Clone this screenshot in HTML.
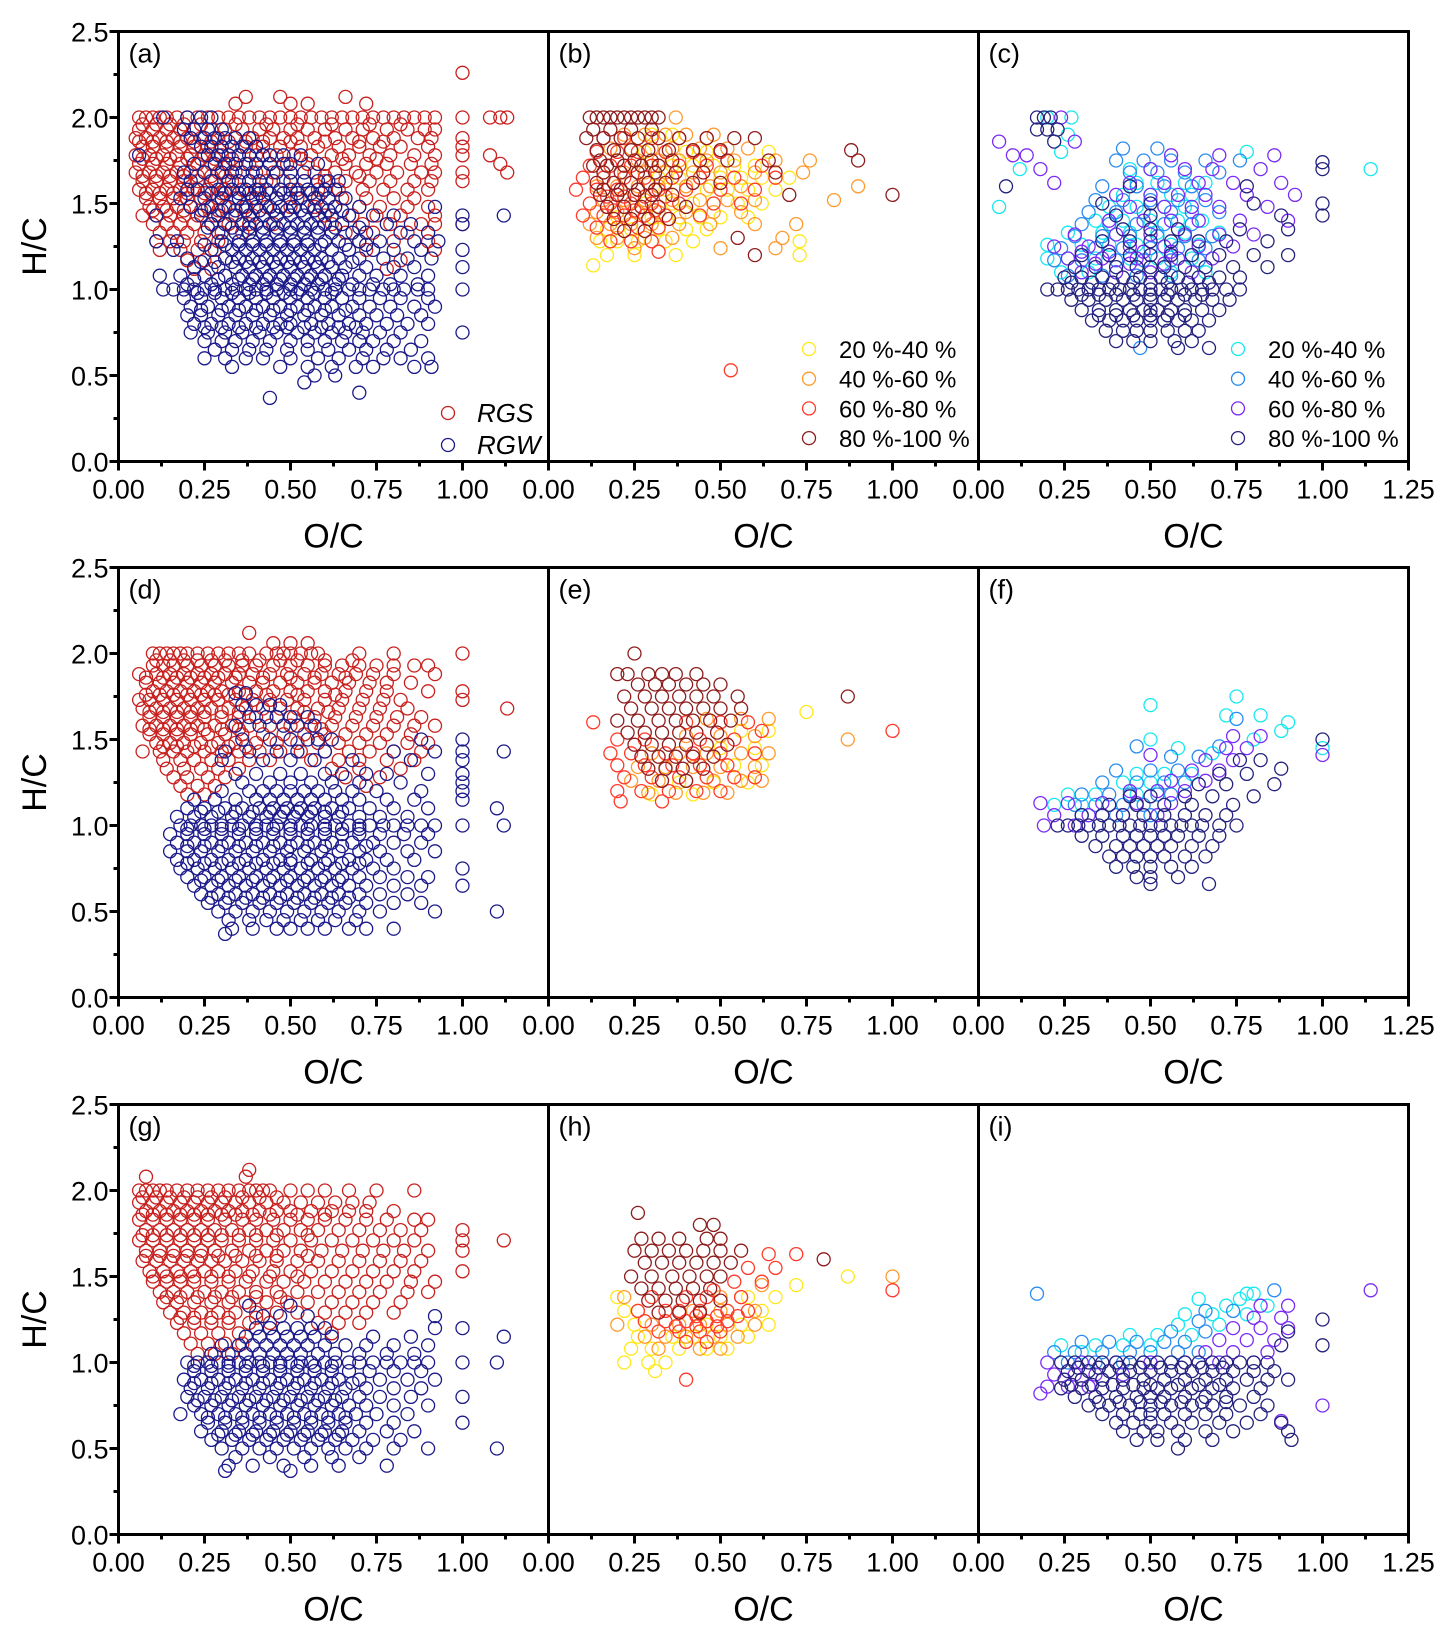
<!DOCTYPE html>
<html><head><meta charset="utf-8"><style>
body{margin:0;background:#fff}
svg{display:block;font-family:"Liberation Sans",Arial,sans-serif}
</style></head><body>
<svg id="fig" width="1453" height="1642" viewBox="0 0 1453 1642"></svg>
<script>
// Data rows: each row = [H/C, O/C values...]
const aRGS=[[2.0,0.06,0.08,0.1,0.12,0.14,0.17,0.2,0.23,0.26,0.29,0.32,0.35,0.38,0.41,0.44,0.47,0.5,0.53,0.56,0.59,0.62,0.65,0.68,0.71,0.74,0.77,0.8,0.83,0.86,0.89,0.92,1.0,1.08,1.11,1.13],[2.08,0.34,0.5,0.55,0.72],[2.12,0.37,0.47,0.66],[2.26,1.0],
[1.93,0.06,0.1,0.14,0.18,0.22,0.27,0.31,0.36,0.41,0.45,0.5,0.55,0.6,0.66,0.71,0.78,0.84,0.89,0.92],[1.88,0.05,0.08,0.12,0.16,0.2,0.24,0.29,0.34,0.39,0.44,0.48,0.52,0.57,0.63,0.68,0.74,0.8,0.87,0.91,1.0],[1.83,0.07,0.1,0.14,0.18,0.22,0.26,0.3,0.37,0.42,0.47,0.53,0.58,0.64,0.7,0.76,0.82,0.9,1.0],[1.78,0.05,0.09,0.13,0.17,0.21,0.25,0.3,0.35,0.4,0.46,0.51,0.56,0.62,0.67,0.73,0.79,0.86,0.92,1.0,1.08],[1.73,0.06,0.1,0.14,0.18,0.23,0.27,0.32,0.38,0.44,0.49,0.55,0.6,0.66,0.72,0.78,0.85,0.91,1.11],[1.68,0.05,0.09,0.13,0.17,0.21,0.25,0.29,0.34,0.4,0.45,0.5,0.57,0.63,0.69,0.75,0.81,0.88,0.92,1.0,1.13],[1.63,0.07,0.11,0.15,0.19,0.23,0.28,0.33,0.38,0.43,0.48,0.54,0.6,0.66,0.73,0.79,0.86,0.91,1.0],[1.58,0.06,0.1,0.14,0.18,0.22,0.26,0.31,0.36,0.41,0.47,0.52,0.58,0.64,0.71,0.77,0.84,0.9],[1.53,0.08,0.12,0.16,0.2,0.24,0.29,0.34,0.4,0.46,0.52,0.58,0.65,0.72,0.8,0.86],[1.48,0.09,0.13,0.17,0.21,0.26,0.31,0.37,0.43,0.5,0.57,0.63,0.7,0.76,0.84,0.9],[1.43,0.07,0.11,0.15,0.19,0.23,0.28,0.33,0.39,0.46,0.6,0.68,0.75,0.82,0.92],[1.38,0.1,0.14,0.18,0.22,0.27,0.32,0.38,0.45,0.62,0.71,0.79,0.88,0.92,1.0],[1.33,0.12,0.16,0.2,0.25,0.3,0.36,0.66,0.74,0.84],[1.28,0.11,0.15,0.19,0.24,0.29,0.7,0.8,0.9],[1.23,0.12,0.18,0.23,0.28,0.72,0.92],[1.17,0.2,0.25,0.82],[1.12,0.22,0.27,0.78],
[1.96,0.07,0.11,0.15,0.19,0.24,0.34,0.43,0.52,0.62,0.73,0.82],[1.86,0.06,0.1,0.14,0.18,0.22,0.27,0.32,0.37,0.42,0.5,0.6,0.7,0.77],[1.76,0.07,0.11,0.15,0.2,0.24,0.28,0.33,0.53,0.65,0.75],[1.66,0.07,0.11,0.15,0.19,0.23,0.27,0.31,0.6,0.7],[1.56,0.08,0.12,0.16,0.2,0.25,0.3],[1.46,0.1,0.14,0.19,0.24,0.29]];
const aRGW=[[2.0,0.13,0.2,0.24,0.27],[1.93,0.19,0.22,0.26,0.3],[1.88,0.21,0.25,0.28,0.31,0.34,0.38],[1.83,0.24,0.27,0.3,0.33,0.36,0.4],[1.78,0.06,0.26,0.29,0.32,0.35,0.38,0.42,0.44,0.48,0.53],[1.73,0.22,0.28,0.31,0.34,0.37,0.4,0.44,0.48,0.5,0.58],[1.68,0.19,0.25,0.3,0.33,0.36,0.39,0.42,0.46,0.5,0.54],[1.63,0.21,0.27,0.32,0.35,0.38,0.41,0.45,0.5,0.54,0.58,0.61,0.64],[1.58,0.2,0.23,0.29,0.33,0.37,0.4,0.43,0.47,0.5,0.55,0.6,0.63],[1.53,0.18,0.25,0.3,0.35,0.39,0.42,0.46,0.5,0.53,0.57,0.61,0.66],[1.48,0.21,0.27,0.32,0.36,0.4,0.44,0.47,0.51,0.55,0.59,0.63,0.7,0.92],[1.43,0.11,0.24,0.29,0.34,0.38,0.42,0.46,0.5,0.54,0.58,0.62,0.67,0.74,0.8,1.0,1.12],[1.38,0.27,0.31,0.36,0.4,0.44,0.48,0.52,0.56,0.6,0.65,0.78,0.85,1.0],[1.33,0.29,0.34,0.38,0.42,0.46,0.5,0.54,0.58,0.62,0.68,0.72,0.82,0.9],[1.28,0.11,0.17,0.3,0.35,0.39,0.43,0.47,0.51,0.55,0.6,0.64,0.7,0.76,0.86,0.93],[1.23,0.16,0.27,0.33,0.37,0.41,0.45,0.49,0.53,0.57,0.62,0.67,0.74,0.8,0.88,1.0],[1.18,0.2,0.31,0.35,0.39,0.43,0.47,0.51,0.55,0.59,0.64,0.7,0.77,0.84,0.91],[1.13,0.22,0.29,0.34,0.38,0.42,0.46,0.5,0.54,0.58,0.62,0.66,0.72,0.8,0.86,1.0],[1.08,0.12,0.18,0.25,0.31,0.36,0.4,0.44,0.48,0.52,0.56,0.6,0.65,0.7,0.75,0.82,0.9],[1.03,0.2,0.27,0.33,0.38,0.42,0.46,0.5,0.54,0.58,0.63,0.68,0.74,0.79,0.87],[1.0,0.13,0.16,0.19,0.22,0.25,0.28,0.31,0.34,0.37,0.4,0.43,0.46,0.5,0.53,0.56,0.6,0.63,0.67,0.7,0.73,0.77,0.8,0.83,0.87,0.9,1.0],[0.95,0.19,0.24,0.3,0.35,0.4,0.45,0.5,0.55,0.6,0.65,0.7,0.76,0.82,0.9],[0.9,0.21,0.26,0.32,0.37,0.42,0.47,0.52,0.57,0.62,0.68,0.73,0.79,0.86,0.92],[0.85,0.2,0.24,0.29,0.34,0.39,0.44,0.49,0.54,0.59,0.64,0.7,0.75,0.81,0.88],[0.8,0.22,0.27,0.32,0.37,0.42,0.47,0.5,0.56,0.61,0.67,0.72,0.78,0.84,0.9],[0.75,0.21,0.26,0.31,0.36,0.41,0.46,0.52,0.57,0.62,0.66,0.71,0.76,0.82,1.0],[0.7,0.25,0.3,0.34,0.39,0.44,0.5,0.55,0.6,0.65,0.7,0.74,0.8,0.88],[0.65,0.28,0.33,0.38,0.43,0.49,0.55,0.61,0.67,0.72,0.78,0.85],[0.6,0.25,0.31,0.37,0.42,0.5,0.58,0.64,0.71,0.77,0.82,0.9],[0.55,0.33,0.47,0.55,0.62,0.69,0.74,0.86,0.91],[0.5,0.57,0.63],[0.46,0.54],[0.4,0.7],[0.37,0.44],
[1.56,0.27,0.31,0.35,0.38,0.41,0.44,0.48,0.52,0.56,0.59],[1.46,0.25,0.3,0.34,0.37,0.41,0.45,0.49,0.53,0.57,0.61,0.65],[1.36,0.26,0.33,0.38,0.42,0.46,0.5,0.54,0.58,0.63,0.7],[1.26,0.25,0.31,0.35,0.39,0.43,0.47,0.51,0.55,0.59,0.66,0.72],[1.16,0.24,0.28,0.33,0.37,0.41,0.45,0.49,0.53,0.57,0.61,0.68],[1.06,0.22,0.29,0.35,0.39,0.43,0.47,0.51,0.55,0.59,0.64],[0.98,0.23,0.28,0.33,0.38,0.43,0.48,0.52,0.57,0.62],[0.88,0.24,0.3,0.35,0.4,0.45,0.5,0.55,0.6,0.66],[0.78,0.25,0.3,0.35,0.4,0.45,0.49,0.54,0.59,0.64,0.69]];
const dRGS=[[2.0,0.1,0.12,0.14,0.16,0.18,0.2,0.23,0.26,0.29,0.32,0.35,0.38,0.43,0.46,0.48,0.5,0.53,0.56,0.58,0.7,0.8,1.0],[2.06,0.45,0.5,0.55],[2.12,0.38],[1.93,0.1,0.13,0.16,0.2,0.24,0.28,0.32,0.36,0.4,0.45,0.5,0.55,0.6,0.65,0.7,0.75,0.8,0.86,0.9],[1.88,0.06,0.11,0.15,0.19,0.23,0.27,0.31,0.35,0.39,0.44,0.49,0.54,0.59,0.64,0.69,0.74,0.8,0.92],[1.83,0.08,0.12,0.16,0.2,0.24,0.28,0.33,0.38,0.42,0.47,0.52,0.57,0.62,0.67,0.73,0.78,0.85],[1.78,0.1,0.14,0.18,0.22,0.26,0.3,0.35,0.4,0.45,0.5,0.55,0.6,0.66,0.72,0.78,0.9,1.0],[1.73,0.06,0.09,0.13,0.17,0.21,0.25,0.29,0.34,0.39,0.44,0.49,0.54,0.6,0.65,0.71,0.77,0.82,1.0],[1.68,0.07,0.11,0.15,0.19,0.23,0.27,0.32,0.37,0.42,0.47,0.52,0.58,0.64,0.7,0.76,0.84,1.13],[1.63,0.09,0.13,0.17,0.21,0.25,0.3,0.35,0.4,0.46,0.51,0.57,0.63,0.69,0.75,0.81,0.88],[1.58,0.07,0.11,0.15,0.19,0.23,0.28,0.33,0.38,0.44,0.5,0.56,0.62,0.68,0.74,0.8,0.86,0.92],[1.53,0.09,0.13,0.17,0.21,0.26,0.31,0.36,0.42,0.48,0.54,0.6,0.66,0.72,0.78,0.85],[1.48,0.11,0.15,0.19,0.24,0.29,0.34,0.4,0.46,0.52,0.58,0.64,0.7,0.76,0.84,0.9],[1.43,0.07,0.12,0.16,0.2,0.25,0.3,0.35,0.41,0.47,0.53,0.6,0.67,0.73,0.8,0.88],[1.38,0.13,0.18,0.22,0.27,0.32,0.38,0.44,0.56,0.64,0.7,0.78,0.86],[1.33,0.14,0.19,0.24,0.29,0.35,0.62,0.7,0.82],[1.28,0.16,0.2,0.26,0.31,0.66,0.76],[1.23,0.18,0.23,0.28,0.72],[1.18,0.2,0.25],
[1.96,0.11,0.15,0.19,0.23,0.27,0.31,0.36,0.41,0.47,0.52,0.6,0.68],[1.86,0.08,0.13,0.17,0.21,0.25,0.29,0.34,0.42,0.5,0.57,0.66],[1.76,0.08,0.12,0.16,0.2,0.24,0.28,0.32,0.37,0.43,0.52,0.63],[1.66,0.09,0.13,0.17,0.21,0.25,0.3,0.35,0.54,0.61],[1.56,0.09,0.13,0.17,0.21,0.25,0.3,0.35,0.59],[1.46,0.13,0.17,0.22,0.27,0.32,0.37]];
const dRGW=[[1.77,0.34,0.37],[1.7,0.36,0.4,0.44,0.47],[1.63,0.38,0.43,0.46,0.5,0.55],[1.58,0.34,0.41,0.48,0.52,0.57],[1.5,0.36,0.44,0.5,0.55,0.58,0.62,0.88,1.0],[1.43,0.31,0.38,0.46,0.52,0.6,0.8,0.92,1.0,1.12],[1.38,0.3,0.42,0.5,0.57,0.68,0.85,1.0],[1.3,0.34,0.4,0.47,0.53,0.6,0.65,0.72,0.78,0.9,1.0],[1.25,0.36,0.44,0.5,0.56,0.62,0.7,0.82,1.0],[1.2,0.3,0.38,0.42,0.46,0.5,0.54,0.58,0.63,0.68,0.75,0.88,1.0],[1.15,0.22,0.28,0.34,0.4,0.44,0.48,0.52,0.56,0.6,0.65,0.7,0.78,0.86,1.0],[1.1,0.2,0.25,0.31,0.36,0.41,0.45,0.49,0.53,0.57,0.62,0.67,0.73,0.8,0.9,1.1],[1.05,0.17,0.22,0.27,0.33,0.38,0.43,0.47,0.51,0.55,0.6,0.64,0.7,0.76,0.84],[1.0,0.18,0.21,0.24,0.27,0.3,0.33,0.36,0.4,0.43,0.46,0.5,0.53,0.56,0.6,0.63,0.67,0.7,0.73,0.77,0.8,0.84,0.88,0.92,1.0,1.12],[0.95,0.15,0.2,0.25,0.3,0.35,0.4,0.45,0.5,0.55,0.6,0.65,0.7,0.76,0.83,0.9],[0.9,0.17,0.22,0.27,0.32,0.37,0.42,0.47,0.52,0.57,0.62,0.68,0.74,0.8,0.88],[0.85,0.15,0.2,0.24,0.29,0.34,0.39,0.44,0.49,0.54,0.59,0.64,0.7,0.76,0.84,0.92],[0.8,0.17,0.22,0.27,0.32,0.37,0.42,0.47,0.5,0.56,0.61,0.67,0.72,0.78,0.86],[0.75,0.18,0.23,0.28,0.33,0.38,0.43,0.48,0.53,0.58,0.63,0.68,0.74,0.8,1.0],[0.7,0.2,0.25,0.3,0.35,0.4,0.45,0.5,0.55,0.6,0.65,0.7,0.76,0.84,0.9],[0.65,0.22,0.27,0.32,0.37,0.42,0.47,0.52,0.57,0.62,0.67,0.72,0.8,0.88,1.0],[0.6,0.24,0.29,0.34,0.39,0.44,0.49,0.54,0.59,0.64,0.7,0.76,0.84],[0.55,0.26,0.31,0.36,0.41,0.46,0.51,0.56,0.61,0.66,0.72,0.8,0.88],[0.5,0.29,0.34,0.39,0.44,0.49,0.54,0.59,0.64,0.7,0.76,0.92,1.1],[0.45,0.32,0.38,0.43,0.48,0.53,0.58,0.63,0.69],[0.4,0.33,0.39,0.46,0.5,0.55,0.6,0.67,0.72,0.8],[0.37,0.31],
[1.08,0.24,0.29,0.34,0.39,0.44,0.48,0.52,0.56,0.6,0.65],[0.98,0.2,0.25,0.3,0.35,0.4,0.45,0.5,0.55,0.6,0.65,0.7],[0.88,0.2,0.25,0.3,0.35,0.4,0.45,0.5,0.55,0.6,0.65,0.72],[0.78,0.2,0.25,0.3,0.35,0.4,0.45,0.5,0.55,0.6,0.65,0.7],[0.68,0.24,0.29,0.34,0.39,0.44,0.49,0.54,0.59,0.64],[0.58,0.27,0.32,0.37,0.42,0.47,0.52,0.57,0.62,0.67]];
const gRGS=[[2.0,0.06,0.08,0.1,0.12,0.14,0.17,0.2,0.23,0.26,0.29,0.32,0.35,0.38,0.4,0.42,0.44,0.5,0.55,0.6,0.67,0.75,0.86],[2.08,0.08,0.37],[2.12,0.38],[1.93,0.06,0.1,0.14,0.18,0.22,0.26,0.3,0.34,0.38,0.43,0.48,0.53,0.58,0.63,0.68,0.73],[1.88,0.08,0.12,0.16,0.2,0.24,0.28,0.32,0.36,0.41,0.46,0.5,0.56,0.62,0.67,0.72,0.8],[1.83,0.06,0.1,0.14,0.18,0.22,0.26,0.31,0.36,0.4,0.45,0.5,0.55,0.6,0.66,0.72,0.78,0.86,0.9],[1.77,0.08,0.12,0.16,0.2,0.24,0.28,0.33,0.38,0.43,0.48,0.53,0.58,0.64,0.7,0.76,0.82,0.88,1.0],[1.71,0.06,0.1,0.14,0.18,0.22,0.26,0.3,0.35,0.4,0.45,0.5,0.56,0.62,0.68,0.74,0.8,0.86,1.0,1.12],[1.65,0.08,0.12,0.16,0.2,0.24,0.28,0.33,0.38,0.43,0.48,0.53,0.59,0.65,0.71,0.77,0.83,0.9,1.0],[1.59,0.07,0.11,0.15,0.19,0.23,0.27,0.31,0.36,0.41,0.46,0.52,0.58,0.64,0.7,0.76,0.82,0.88],[1.53,0.09,0.13,0.17,0.21,0.25,0.29,0.34,0.39,0.45,0.5,0.56,0.62,0.68,0.74,0.8,0.86,1.0],[1.47,0.1,0.14,0.18,0.22,0.27,0.32,0.37,0.43,0.48,0.54,0.6,0.66,0.72,0.78,0.85,0.92],[1.41,0.12,0.16,0.2,0.25,0.3,0.35,0.4,0.46,0.52,0.58,0.64,0.7,0.76,0.84,0.9],[1.35,0.13,0.17,0.22,0.27,0.32,0.37,0.43,0.49,0.55,0.62,0.68,0.74,0.82],[1.29,0.15,0.19,0.24,0.29,0.34,0.4,0.46,0.52,0.6,0.66,0.72,0.8],[1.23,0.17,0.22,0.27,0.32,0.38,0.44,0.58,0.64,0.7],[1.17,0.19,0.24,0.29,0.35,0.62],[1.11,0.21,0.26,0.31,0.36],[1.05,0.23,0.28,0.33],
[1.96,0.07,0.11,0.15,0.19,0.23,0.27,0.31,0.36,0.41,0.46],[1.86,0.07,0.1,0.14,0.18,0.22,0.26,0.3,0.34,0.39,0.44,0.52,0.6],[1.74,0.07,0.1,0.14,0.18,0.22,0.26,0.3,0.35,0.4,0.46,0.55],[1.62,0.08,0.12,0.16,0.2,0.24,0.29,0.34,0.4,0.46,0.55],[1.5,0.1,0.14,0.18,0.22,0.27,0.32,0.38,0.44,0.52],[1.38,0.14,0.18,0.23,0.28,0.33,0.4,0.47],[1.26,0.18,0.22,0.27,0.32,0.4]];
const gRGW=[[1.33,0.38,0.5],[1.27,0.42,0.47,0.55,0.92],[1.2,0.4,0.44,0.48,0.52,0.56,0.6,0.92,1.0],[1.15,0.37,0.41,0.45,0.49,0.53,0.57,0.62,0.74,0.85,1.12],[1.1,0.3,0.35,0.39,0.43,0.47,0.51,0.55,0.6,0.66,0.72,0.8,0.9],[1.05,0.27,0.32,0.37,0.41,0.45,0.49,0.53,0.58,0.63,0.7,0.78,0.86],[1.0,0.2,0.23,0.26,0.29,0.32,0.35,0.38,0.41,0.44,0.47,0.5,0.53,0.56,0.6,0.63,0.67,0.7,0.74,0.78,0.82,0.86,0.9,1.0,1.1],[0.95,0.22,0.27,0.32,0.37,0.42,0.47,0.52,0.57,0.62,0.67,0.73,0.8,0.88],[0.9,0.19,0.24,0.29,0.34,0.39,0.44,0.49,0.54,0.59,0.64,0.7,0.76,0.84,0.92],[0.85,0.21,0.26,0.31,0.36,0.41,0.46,0.51,0.56,0.61,0.66,0.72,0.8,0.88],[0.8,0.2,0.25,0.3,0.35,0.4,0.45,0.5,0.55,0.6,0.65,0.7,0.76,0.85,1.0],[0.75,0.22,0.27,0.32,0.37,0.42,0.47,0.52,0.57,0.62,0.67,0.72,0.8,0.9],[0.7,0.18,0.24,0.29,0.34,0.39,0.44,0.49,0.54,0.59,0.64,0.69,0.75,0.84],[0.65,0.26,0.31,0.36,0.41,0.46,0.51,0.56,0.61,0.66,0.72,0.8,1.0],[0.6,0.24,0.3,0.35,0.4,0.45,0.5,0.55,0.6,0.65,0.7,0.78,0.86],[0.55,0.27,0.33,0.38,0.43,0.48,0.53,0.58,0.63,0.68,0.74,0.82],[0.5,0.3,0.36,0.41,0.46,0.51,0.56,0.61,0.66,0.72,0.8,0.9,1.1],[0.45,0.34,0.44,0.54,0.62,0.7],[0.4,0.32,0.39,0.48,0.56,0.64,0.78],[0.37,0.31,0.5],
[0.98,0.22,0.27,0.32,0.37,0.42,0.47,0.52,0.57,0.62],[0.88,0.22,0.27,0.32,0.37,0.42,0.47,0.52,0.57,0.62,0.68],[0.78,0.23,0.28,0.33,0.38,0.43,0.48,0.53,0.58,0.63],[0.68,0.26,0.31,0.36,0.41,0.46,0.51,0.56,0.61,0.66],[0.58,0.29,0.34,0.39,0.44,0.49,0.54,0.59,0.64]];
const bY=[[1.9,0.3,0.36],[1.8,0.28,0.34,0.4,0.46,0.64],[1.72,0.3,0.36,0.42,0.48,0.54,0.6],[1.65,0.32,0.38,0.44,0.5,0.56,0.62,0.7],[1.58,0.26,0.34,0.4,0.46,0.52,0.58,0.66],[1.5,0.28,0.36,0.42,0.48,0.55,0.62],[1.42,0.2,0.3,0.38,0.44,0.5,0.58],[1.35,0.17,0.24,0.32,0.4,0.46],[1.28,0.15,0.2,0.26,0.34,0.42,0.73],[1.2,0.17,0.25,0.37,0.73],[1.14,0.13]];
const bO=[[2.0,0.37],[1.9,0.22,0.28,0.34,0.4,0.48],[1.82,0.18,0.24,0.3,0.36,0.44,0.52,0.58],[1.75,0.2,0.26,0.32,0.38,0.46,0.54,0.66,0.76],[1.68,0.16,0.22,0.28,0.34,0.42,0.5,0.6,0.74],[1.6,0.14,0.2,0.26,0.32,0.4,0.47,0.56,0.9],[1.52,0.16,0.22,0.28,0.36,0.44,0.52,0.6,0.83],[1.45,0.14,0.2,0.26,0.32,0.4,0.48,0.56],[1.38,0.12,0.18,0.24,0.3,0.38,0.47,0.6,0.72],[1.3,0.14,0.2,0.28,0.36,0.68],[1.24,0.25,0.5,0.66]];
const bR=[[1.88,0.16,0.22,0.3,0.38,0.46],[1.8,0.14,0.2,0.26,0.34,0.42,0.5],[1.72,0.12,0.18,0.24,0.3,0.38,0.46,0.62],[1.65,0.1,0.16,0.22,0.28,0.36,0.44,0.54,0.66],[1.58,0.08,0.14,0.2,0.26,0.32,0.4,0.5,0.6],[1.5,0.12,0.18,0.24,0.3,0.38,0.48,0.56],[1.43,0.1,0.16,0.22,0.28,0.34,0.44],[1.36,0.14,0.2,0.26,0.32],[1.28,0.18,0.24,0.3],[1.22,0.32],[0.53,0.53],[1.54,0.17,0.22,0.28,0.34],[1.46,0.19,0.25,0.31]];
const bD=[[2.0,0.12,0.14,0.16,0.18,0.2,0.22,0.24,0.26,0.28,0.3,0.32],[1.93,0.13,0.18,0.24,0.3],[1.88,0.11,0.16,0.21,0.26,0.32,0.38,0.46,0.54,0.6],[1.81,0.14,0.19,0.24,0.29,0.35,0.42,0.5,0.88],[1.75,0.15,0.2,0.25,0.3,0.36,0.44,0.52,0.64,0.9],[1.68,0.16,0.21,0.26,0.31,0.37,0.45,0.66],[1.62,0.14,0.19,0.24,0.29,0.34,0.42,0.5],[1.55,0.15,0.2,0.25,0.3,0.36,1.0,0.7],[1.48,0.17,0.22,0.27,0.32,0.4],[1.41,0.19,0.24,0.29,0.35],[1.34,0.22,0.28],[1.3,0.55],[1.2,0.6],[1.72,0.13,0.17,0.22,0.27,0.32],[1.58,0.16,0.21,0.26,0.31]];
const eY=[[1.66,0.75],[1.55,0.56,0.64],[1.45,0.5,0.6],[1.35,0.44,0.54,0.62],[1.25,0.38,0.48,0.58],[1.18,0.3,0.42]];
const eO=[[1.62,0.46,0.56,0.64],[1.52,0.4,0.5,0.6],[1.5,0.87],[1.42,0.3,0.38,0.46,0.56,0.64],[1.34,0.26,0.34,0.42,0.5,0.6],[1.26,0.24,0.32,0.4,0.48,0.56,0.62],[1.19,0.29,0.37,0.45,0.52]];
const eR=[[1.6,0.13,0.4,0.5,0.58],[1.55,1.0,0.62],[1.5,0.2,0.28,0.44,0.54],[1.42,0.18,0.24,0.34,0.42,0.5,0.6],[1.35,0.2,0.28,0.36,0.44,0.52],[1.28,0.22,0.3,0.38,0.46,0.54,0.6],[1.2,0.2,0.27,0.35,0.43,0.5],[1.14,0.21,0.33]];
const eD=[[2.0,0.25],[1.88,0.2,0.23,0.29,0.33,0.37,0.43],[1.82,0.26,0.31,0.35,0.4,0.45,0.5],[1.75,0.22,0.28,0.33,0.38,0.43,0.48,0.55,0.87],[1.68,0.24,0.3,0.35,0.4,0.45,0.5,0.56],[1.61,0.2,0.26,0.32,0.37,0.42,0.47,0.53],[1.54,0.23,0.28,0.33,0.38,0.43,0.49],[1.47,0.25,0.3,0.35,0.4,0.46,0.52],[1.4,0.27,0.32,0.37,0.42,0.48],[1.33,0.29,0.34,0.39,0.45],[1.26,0.33,0.4]];
const hY=[[1.5,0.87],[1.45,0.72],[1.38,0.58,0.66,0.2],[1.3,0.22,0.52,0.62],[1.22,0.25,0.46,0.56,0.64],[1.15,0.26,0.36,0.42,0.5,0.58],[1.08,0.24,0.3,0.38,0.46,0.52],[1.0,0.22,0.29,0.34],[0.95,0.31]];
const hO=[[1.5,1.0],[1.45,0.62],[1.38,0.22,0.5,0.56],[1.3,0.26,0.42,0.5,0.6],[1.22,0.2,0.3,0.38,0.44,0.52,0.6],[1.15,0.28,0.34,0.4,0.48,0.55],[1.08,0.32,0.44,0.5]];
const hR=[[1.63,0.64,0.72],[1.55,0.58,0.66],[1.47,0.54,0.62],[1.42,1.0,0.48],[1.38,0.3,0.4,0.46,0.56],[1.3,0.26,0.34,0.38,0.44,0.52,0.58],[1.24,0.28,0.34,0.4,0.46,0.52],[1.18,0.32,0.38,0.44,0.5],[1.12,0.4,0.46],[0.9,0.4],[1.27,0.43,0.49,0.55],[1.21,0.37,0.43,0.49]];
const hD=[[1.87,0.26],[1.8,0.44,0.48],[1.72,0.27,0.32,0.38,0.46,0.5],[1.65,0.25,0.3,0.35,0.4,0.45,0.5,0.56],[1.6,0.8],[1.58,0.28,0.33,0.38,0.43,0.48,0.53],[1.5,0.24,0.3,0.36,0.41,0.46,0.5],[1.43,0.27,0.32,0.37,0.42,0.47],[1.36,0.29,0.34,0.39,0.44,0.5],[1.29,0.32,0.38,0.44]];
const cC=[[2.0,0.27,0.2],[1.9,0.26],[1.8,0.24,0.78],[1.7,0.12,0.44,0.5,1.14],[1.62,0.46,0.52,0.6,0.66],[1.55,0.42,0.5,0.56,0.62],[1.48,0.06,0.38,0.46,0.54,0.6],[1.4,0.34,0.42,0.5,0.58,0.65],[1.33,0.26,0.36,0.44,0.52,0.6,0.7],[1.26,0.2,0.3,0.38,0.46,0.56,0.64],[1.18,0.2,0.26,0.34,0.44,0.52,0.62],[1.1,0.24,0.32,0.4,0.56,0.66]];
const cB=[[1.82,0.42,0.52],[1.75,0.4,0.48,0.56,0.66,0.76],[1.68,0.44,0.52,0.6,0.7],[1.6,0.36,0.46,0.54,0.62],[1.52,0.34,0.42,0.5,0.58,0.66],[1.45,0.32,0.4,0.48,0.56,0.62,0.7],[1.38,0.3,0.38,0.46,0.54,0.62],[1.31,0.28,0.36,0.44,0.52,0.6,0.68],[1.24,0.24,0.34,0.42,0.5,0.58,0.66],[1.17,0.22,0.3,0.4,0.48,0.56,0.64],[1.08,0.26,0.36,0.46,0.56],[0.66,0.47]];
const cP=[[2.0,0.24],[1.86,0.06,0.28],[1.78,0.1,0.14,0.56,0.7,0.86],[1.7,0.18,0.5,0.6,0.68,0.82],[1.62,0.22,0.44,0.54,0.64,0.74,0.88],[1.55,0.4,0.5,0.58,0.66,0.78,0.92],[1.48,0.44,0.54,0.62,0.7,0.84],[1.4,0.38,0.48,0.56,0.64,0.76,0.9],[1.32,0.28,0.4,0.5,0.6,0.7,0.8],[1.25,0.22,0.32,0.44,0.54,0.64,0.74],[1.18,0.26,0.36,0.46,0.58,0.68],[1.1,0.3,0.4,0.5,0.62],[1.22,0.3,0.38,0.48,0.56],[1.15,0.34,0.44,0.54]];
const cN=[[2.0,0.17,0.19,0.21],[1.93,0.17,0.2,0.23],[1.86,0.22],[1.74,1.0],[1.7,1.0],[1.6,0.08,0.44,0.78],[1.5,0.36,0.5,1.0,0.8],[1.43,0.4,0.5,0.88,1.0],[1.35,0.42,0.5,0.58,0.76,0.9],[1.28,0.36,0.44,0.5,0.56,0.64,0.72,0.84],[1.2,0.3,0.38,0.44,0.5,0.56,0.62,0.7,0.8,0.9],[1.13,0.28,0.34,0.4,0.46,0.5,0.54,0.6,0.66,0.74,0.84],[1.07,0.25,0.3,0.36,0.42,0.47,0.53,0.58,0.64,0.7,0.76],[1.0,0.2,0.23,0.26,0.29,0.32,0.35,0.38,0.41,0.44,0.47,0.5,0.53,0.56,0.59,0.62,0.65,0.68,0.72,0.76],[0.94,0.27,0.32,0.37,0.42,0.46,0.5,0.54,0.58,0.63,0.68,0.73],[0.88,0.3,0.35,0.4,0.44,0.48,0.5,0.52,0.56,0.6,0.65,0.7],[0.82,0.33,0.38,0.42,0.46,0.5,0.54,0.58,0.62,0.67],[0.76,0.37,0.42,0.46,0.5,0.55,0.6,0.64],[0.7,0.4,0.45,0.5,0.57,0.62],[0.66,0.58,0.67],[1.04,0.27,0.33,0.39,0.45,0.5,0.55,0.61,0.67],[0.97,0.3,0.35,0.4,0.45,0.5,0.55,0.6,0.65],[0.85,0.35,0.4,0.45,0.5,0.55,0.6]];
const fC=[[1.75,0.75],[1.7,0.5],[1.64,0.72,0.82],[1.6,0.9],[1.55,0.88],[1.5,0.5,0.8],[1.45,0.58,1.0],[1.42,0.68],[1.3,0.46,0.54,0.62],[1.25,0.42,0.5],[1.18,0.34,0.46,0.26],[1.12,0.3,0.22]];
const fB=[[1.62,0.75],[1.46,0.46,0.7],[1.4,0.56,0.64],[1.32,0.4,0.5,0.58],[1.25,0.36,0.46,0.54,0.6],[1.18,0.3,0.38,0.44,0.52,0.56],[1.12,0.28,0.34,0.42,0.48],[1.06,0.3,0.4,0.5]];
const fP=[[1.52,0.74,0.82],[1.45,0.72,0.78],[1.41,0.5,1.0],[1.38,0.66,0.74],[1.32,0.62,0.7],[1.26,0.56,0.66],[1.2,0.44,0.52,0.6],[1.13,0.18,0.26,0.36,0.46,0.56],[1.06,0.22,0.32,0.42,0.52],[1.0,0.19,0.28]];
const fN=[[1.5,1.0],[1.38,0.76,0.82],[1.33,0.88],[1.3,0.7,0.78],[1.24,0.64,0.72,0.86],[1.17,0.44,0.5,0.6,0.68,0.8],[1.12,0.38,0.46,0.54,0.62,0.74],[1.06,0.3,0.36,0.42,0.48,0.54,0.6,0.66,0.72],[1.0,0.23,0.26,0.29,0.32,0.35,0.38,0.41,0.44,0.47,0.5,0.53,0.56,0.59,0.62,0.65,0.7,0.75],[0.94,0.3,0.36,0.42,0.46,0.5,0.54,0.58,0.64,0.7],[0.88,0.34,0.4,0.44,0.48,0.52,0.56,0.62,0.68],[0.82,0.38,0.42,0.46,0.5,0.54,0.6,0.66],[0.76,0.4,0.45,0.5,0.56,0.62],[0.7,0.46,0.5,0.58],[0.66,0.5,0.67]];
const iC=[[1.4,0.78,0.8],[1.37,0.76,0.64],[1.33,0.72,0.84],[1.28,0.68,0.78,0.6],[1.22,0.7,0.58],[1.16,0.44,0.52,0.62],[1.1,0.24,0.34,0.42,0.5],[1.06,0.3]];
const iB=[[1.42,0.86],[1.4,0.17],[1.3,0.66,0.74],[1.24,0.64],[1.18,0.56,0.66],[1.12,0.3,0.38,0.46,0.54,0.6],[1.06,0.22,0.28,0.36,0.44,0.5,0.58,0.64],[1.0,0.26,0.34,0.42,0.48,0.56]];
const iP=[[1.42,1.14],[1.33,0.82,0.9],[1.26,0.8,0.88],[1.2,0.74,0.82,0.9],[1.13,0.7,0.78,0.86],[1.06,0.66,0.74,0.84],[1.0,0.2,0.3,0.4,0.5,0.6,0.7,0.8],[0.93,0.22,0.28,0.34,0.42],[0.86,0.2,0.26,0.32],[0.82,0.18],[0.75,1.0],[0.66,0.88]];
const iN=[[1.25,1.0],[1.18,0.9],[1.1,1.0,0.88],[1.0,0.24,0.28,0.32,0.36,0.4,0.44,0.48,0.52,0.56,0.6,0.64,0.68,0.72,0.76,0.8,0.84],[0.95,0.26,0.32,0.38,0.44,0.5,0.56,0.62,0.68,0.74,0.8,0.86],[0.9,0.25,0.3,0.36,0.42,0.48,0.54,0.6,0.66,0.72,0.78,0.84,0.9],[0.85,0.24,0.3,0.36,0.42,0.48,0.52,0.56,0.62,0.68,0.74,0.82],[0.8,0.28,0.34,0.4,0.46,0.5,0.54,0.6,0.66,0.72,0.8],[0.75,0.32,0.38,0.44,0.5,0.56,0.62,0.68,0.76,0.84],[0.7,0.36,0.42,0.47,0.5,0.54,0.6,0.66,0.72,0.82],[0.65,0.4,0.45,0.5,0.56,0.62,0.7,0.78,0.88],[0.6,0.42,0.48,0.52,0.58,0.66,0.74,0.9],[0.55,0.46,0.52,0.6,0.68,0.91],[0.5,0.58],[0.97,0.29,0.35,0.41,0.47,0.53,0.59,0.65,0.71],[0.87,0.27,0.33,0.39,0.45,0.5,0.58,0.64,0.7],[0.77,0.35,0.41,0.47,0.53,0.59,0.65,0.72]];
const xTicks=[0,0.25,0.5,0.75,1.0,1.25];
const xTickLabels=["0.00","0.25","0.50","0.75","1.00","1.25"];
const yTicks=[0,0.5,1.0,1.5,2.0,2.5];
const yTickLabels=["0.0","0.5","1.0","1.5","2.0","2.5"];
const srcLegend=["RGS","RGW"];
const pctLegend=["20 %-40 %","40 %-60 %","60 %-80 %","80 %-100 %"];

const NS="http://www.w3.org/2000/svg";
const svg=document.getElementById('fig');
const COLS=[118.5,548.5,978.5], ROWS=[31.5,567.5,1104.5], W=430, H=430;
const RED="#c8211f", NAVY="#1c1a8a";
const WARM=["#ffe81a","#ff9a2e","#ff3a2a","#8e1c1c"];
const COOL=["#18e8f0","#2a8cf0","#7a2cf5","#24227e"];
function el(tag,attrs,parent){const e=document.createElementNS(NS,tag);for(const k in attrs)e.setAttribute(k,attrs[k]);(parent||svg).appendChild(e);return e;}
function xs(c,v){return COLS[c]+v/1.25*W;}
function ys(r,v){return ROWS[r]+H-v/2.5*H;}
function drawRows(c,r,rows,color,name){
  const g=el('g',{});
  
  
  rows.forEach(row=>{for(let i=1;i<row.length;i++){
    const p=el('circle',{cx:xs(c,row[i]).toFixed(1),cy:ys(r,row[0]).toFixed(1),r:6.5,fill:'none',stroke:color,'stroke-width':1.3},g);
    
    
  }});
}
function text(x,y,s,attrs,name){const t=el('text',Object.assign({x:x,y:y,'font-size':27,fill:'#000'},attrs));t.textContent=s;
  
  
  return t;}
const letters="abcdefghi";
const panels=[
 [[aRGS,RED,'rgs'],[aRGW,NAVY,'rgw']],
 [[bY,WARM[0],'p20-40'],[bO,WARM[1],'p40-60'],[bR,WARM[2],'p60-80'],[bD,WARM[3],'p80-100']],
 [[cC,COOL[0],'p20-40'],[cB,COOL[1],'p40-60'],[cP,COOL[2],'p60-80'],[cN,COOL[3],'p80-100']],
 [[dRGS,RED,'rgs'],[dRGW,NAVY,'rgw']],
 [[eY,WARM[0],'p20-40'],[eO,WARM[1],'p40-60'],[eR,WARM[2],'p60-80'],[eD,WARM[3],'p80-100']],
 [[fC,COOL[0],'p20-40'],[fB,COOL[1],'p40-60'],[fP,COOL[2],'p60-80'],[fN,COOL[3],'p80-100']],
 [[gRGS,RED,'rgs'],[gRGW,NAVY,'rgw']],
 [[hY,WARM[0],'p20-40'],[hO,WARM[1],'p40-60'],[hR,WARM[2],'p60-80'],[hD,WARM[3],'p80-100']],
 [[iC,COOL[0],'p20-40'],[iB,COOL[1],'p40-60'],[iP,COOL[2],'p60-80'],[iN,COOL[3],'p80-100']]
];
for(let r=0;r<3;r++)for(let c=0;c<3;c++){
  const k=r*3+c, L=letters[k];
  panels[k].forEach(s=>drawRows(c,r,s[0],s[1],'panel-'+L+'-'+s[2]));
  const fr=el('rect',{x:COLS[c],y:ROWS[r],width:W,height:H,fill:'none',stroke:'#000','stroke-width':3});
  
  
  text(COLS[c]+10,ROWS[r]+31,'('+L+')',{'font-size':27},'panel-'+L+'-label');
  const by=ROWS[r]+H;
  for(let t=0;t<=10;t++){const v=t*0.125;const len=t%2?5:9;
    const tk=el('line',{x1:xs(c,v),x2:xs(c,v),y1:by,y2:by+len,stroke:'#000','stroke-width':3});
    
    }
  xTicks.forEach((v,i)=>{if(i===5&&c<2)return;text(xs(c,v),by+37,xTickLabels[i],{'text-anchor':'middle'},'x-tick-label');});
  text(COLS[c]+W/2,by+86,'O/C',{'text-anchor':'middle','font-size':34},'x-axis-title');
  if(c===0){
    for(let t=0;t<=10;t++){const v=t*0.25;const len=t%2?5:9;
      const tk=el('line',{x1:COLS[0]-len,x2:COLS[0],y1:ys(r,v),y2:ys(r,v),stroke:'#000','stroke-width':3});
      
      }
    yTicks.forEach((v,i)=>text(COLS[0]-10,ys(r,v)+10,yTickLabels[i],{'text-anchor':'end'},'y-tick-label'));
    text(0,0,'H/C',{'text-anchor':'middle','font-size':34,transform:`translate(46,${ROWS[r]+H/2}) rotate(-90)`},'y-axis-title');
  }
}
// legends
srcLegend.forEach((s,i)=>{const y=413+i*32;
  const m=el('circle',{cx:448,cy:y,r:6.5,fill:'none',stroke:i?NAVY:RED,'stroke-width':1.3});
  
  
  text(477,y+9,s,{'font-style':'italic','font-size':26},'legend-entry-'+s.toLowerCase());});
pctLegend.forEach((s,i)=>{const y=349+i*29.7;
  [[809,839,WARM],[1238,1268,COOL]].forEach(([cx,tx,pal],j)=>{
    const m=el('circle',{cx:cx,cy:y,r:6.5,fill:'none',stroke:pal[i],'stroke-width':1.3});
    
    
    text(tx,y+9,s,{'font-size':24},'legend-entry');});
});
</script>
</body></html>
